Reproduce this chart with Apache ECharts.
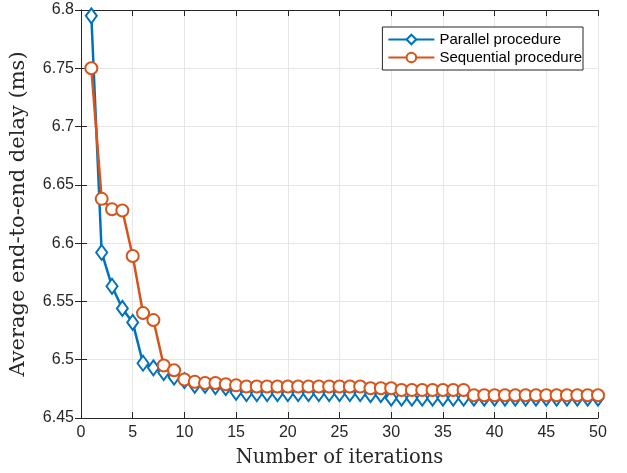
<!DOCTYPE html>
<html>
<head>
<meta charset="utf-8">
<script src="https://cdn.jsdelivr.net/npm/echarts@6/dist/echarts.min.js"></script>
<style>
html,body{margin:0;padding:0;background:#fff;overflow:hidden;}
#c{width:100vw;height:100vh;}
</style>
</head>
<body>
<div id="c"></div>
<script>
var iterations = [1,2,3,4,5,6,7,8,9,10,11,12,13,14,15,16,17,18,19,20,21,22,23,24,25,26,27,28,29,30,31,32,33,34,35,36,37,38,39,40,41,42,43,44,45,46,47,48,49,50];
var parallelDelay = [6.795,6.592,6.563,6.544,6.532,6.497,6.493,6.489,6.485,6.482,6.478,6.478,6.477,6.476,6.472,6.471,6.471,6.471,6.471,6.471,6.471,6.471,6.471,6.471,6.471,6.471,6.471,6.470,6.470,6.467,6.467,6.467,6.467,6.467,6.467,6.467,6.467,6.467,6.467,6.467,6.467,6.467,6.467,6.467,6.467,6.467,6.467,6.467,6.467,6.467];
var sequentialDelay = [6.750,6.638,6.629,6.628,6.589,6.540,6.534,6.495,6.491,6.483,6.481,6.480,6.480,6.479,6.478,6.477,6.477,6.477,6.477,6.477,6.477,6.477,6.477,6.477,6.477,6.477,6.477,6.4755,6.4755,6.4755,6.474,6.474,6.474,6.474,6.474,6.474,6.474,6.4695,6.4695,6.4695,6.4695,6.4695,6.4695,6.4695,6.4695,6.4695,6.4695,6.4695,6.4695,6.4695];
var seriesNames = ['Parallel procedure','Sequential procedure'];
var xTitle = 'Number of iterations';
var yTitle = 'Average end-to-end delay (ms)';

function pairs(ys){ return iterations.map(function(x,i){ return [x, ys[i]]; }); }

var chart = echarts.init(document.getElementById('c'));
var axisCol = '#262626';
var sideAxis = {
  axisLine:{show:true,lineStyle:{color:axisCol,width:1}},
  axisTick:{show:true,inside:true,length:6,lineStyle:{color:axisCol}},
  axisLabel:{show:false}, splitLine:{show:false}
};
chart.setOption({
  animation:false,
  backgroundColor:'#fff',
  grid:{left:80,right:29,top:10,bottom:50,containLabel:false},
  legend:{
    data:seriesNames, orient:'vertical', right:44, top:27,
    backgroundColor:'#fff', borderColor:'#262626', borderWidth:1,
    padding:[5,1,5,5], itemGap:3, itemWidth:46, itemHeight:12,
    textStyle:{fontFamily:'Liberation Sans, Arial, sans-serif',fontSize:15,color:'#000'}
  },
  xAxis:[
    {
      type:'value', min:0, max:50, interval:5, position:'bottom',
      name:xTitle, nameLocation:'middle', nameGap:30,
      nameTextStyle:{fontFamily:'DejaVu Serif, Liberation Serif, serif',fontSize:19.5,color:axisCol},
      axisLine:{show:true,lineStyle:{color:axisCol,width:1}},
      axisTick:{show:true,inside:true,length:6,lineStyle:{color:axisCol}},
      axisLabel:{show:true,color:axisCol,fontFamily:'Liberation Sans, Arial, sans-serif',fontSize:16,margin:7},
      splitLine:{show:true,lineStyle:{color:'#e6e6e6',width:1}}
    },
    Object.assign({type:'value',min:0,max:50,interval:5,position:'top'}, sideAxis)
  ],
  yAxis:[
    {
      type:'value', min:6.45, max:6.8, interval:0.05, position:'left',
      name:yTitle, nameLocation:'middle', nameGap:52,
      nameTextStyle:{fontFamily:'DejaVu Serif, Liberation Serif, serif',fontSize:21,color:axisCol},
      axisLine:{show:true,lineStyle:{color:axisCol,width:1}},
      axisTick:{show:true,inside:true,length:6,lineStyle:{color:axisCol}},
      axisLabel:{show:true,color:axisCol,fontFamily:'Liberation Sans, Arial, sans-serif',fontSize:16,margin:7,
        formatter:function(v){ return String(parseFloat(v.toFixed(2))); }},
      splitLine:{show:true,lineStyle:{color:'#e6e6e6',width:1}}
    },
    Object.assign({type:'value',min:6.45,max:6.8,interval:0.05,position:'right'}, sideAxis)
  ],
  series:[
    {
      name:seriesNames[0], type:'line', data:pairs(parallelDelay),
      symbol:'emptyDiamond', symbolSize:[11,15], showAllSymbol:true,
      lineStyle:{color:'#0072BD',width:2.5},
      itemStyle:{color:'#0072BD',borderColor:'#0072BD',borderWidth:2.5},
      z:2
    },
    {
      name:seriesNames[1], type:'line', data:pairs(sequentialDelay),
      symbol:'emptyCircle', symbolSize:12, showAllSymbol:true,
      lineStyle:{color:'#D95319',width:2.5},
      itemStyle:{color:'#D95319',borderColor:'#D95319',borderWidth:2.5},
      z:3
    }
  ]
});
</script>
</body>
</html>
